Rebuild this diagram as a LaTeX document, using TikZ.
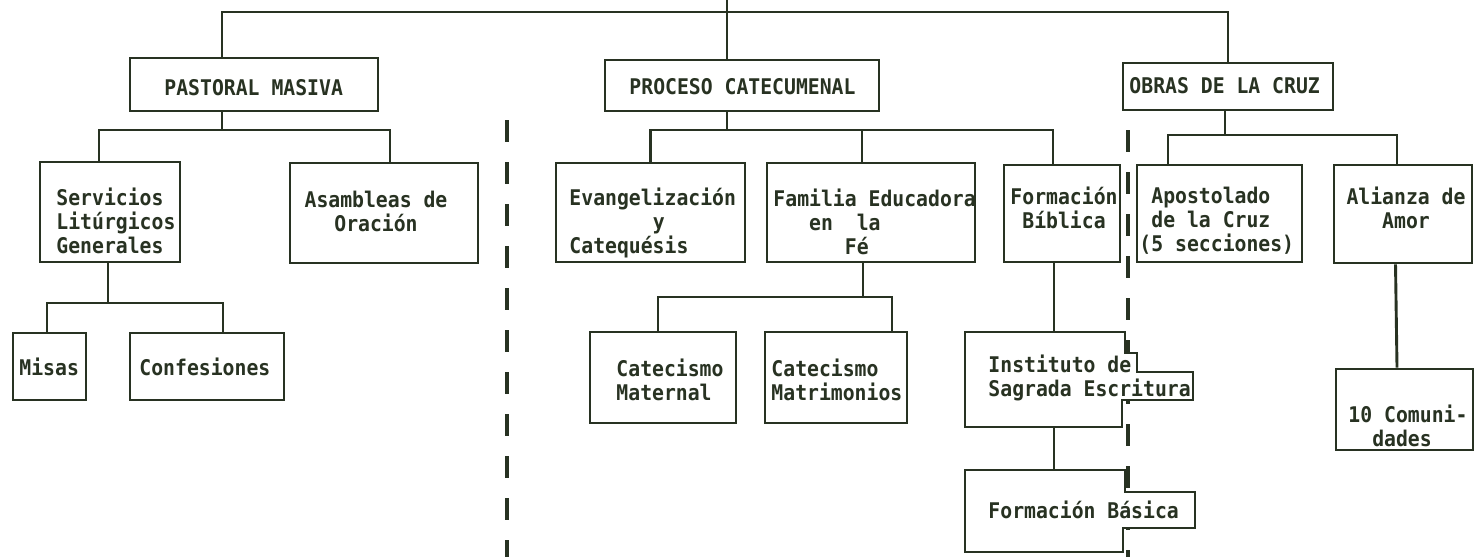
\documentclass[tikz,border=0pt]{standalone}
\usepackage{fontspec}
\setmainfont{DejaVu Sans Mono}[FakeStretch=0.915]
\usetikzlibrary{calc,fit}
\definecolor{ink}{RGB}{40,50,34}
\begin{document}
\begin{tikzpicture}[x=0.5pt,y=-0.5pt, color=ink, line width=1.45pt,
  box/.style={draw=ink, fill=white, line width=1.45pt, inner sep=0pt},
  ghost/.style={inner sep=0pt},
  txt/.style={text=ink, inner sep=0pt, font=\bfseries\fontsize{10.8}{12}\selectfont},
  dashline/.style={line width=1.6pt, draw=ink, dash pattern=on 11pt off 10pt}]
\useasboundingbox (0,0) rectangle (1481,557);

% ---- dashed separators (drawn first, boxes cover them) ----
\coordinate (d1a) at (507,120);
\coordinate (d1b) at (507,557);
\coordinate (d2a) at (1128,130);
\coordinate (d2b) at (1128,557);
\draw[dashline] (d1a) -- (d1b);
\draw[dashline] (d2a) -- (d2b);

% ---- boxes ----
\node[box, fit={(130,58) (378,111)}] (pm) {};
\node[box, fit={(605,60) (879,111)}] (pc) {};
\node[box, fit={(1123,63) (1333,110)}] (oc) {};
\node[box, fit={(40,162) (180,262)}] (serv) {};
\node[box, fit={(290,163) (478,263)}] (asam) {};
\node[box, fit={(556,163) (745,262)}] (evang) {};
\node[box, fit={(767,163) (975,262)}] (fam) {};
\node[box, fit={(1004,165) (1120,262)}] (fb) {};
\node[box, fit={(1137,165) (1302,262)}] (apost) {};
\node[box, fit={(1334,165) (1472,263)}] (ali) {};
\node[box, fit={(13,333) (86,400)}] (misas) {};
\node[box, fit={(130,333) (284,400)}] (conf) {};
\node[box, fit={(590,332) (736,423)}] (catm) {};
\node[box, fit={(765,332) (907,423)}] (catmat) {};
\node[box, fit={(1336,369) (1473,450)}] (com) {};
\node[ghost, fit={(965,332) (1125,427)}] (inst) {};
\node[ghost, fit={(965,470) (1125,552)}] (fbas) {};
\draw[fill=white] (965,332) -- (1125,332) -- (1125,353) -- (1137,353) -- (1137,372) -- (1193,372)
  -- (1193,400) -- (1122,400) -- (1122,427) -- (965,427) -- cycle;
\draw[fill=white] (965,470) -- (1125,470) -- (1125,492) -- (1195,492) -- (1195,528) -- (1123,528)
  -- (1123,552) -- (965,552) -- cycle;

% ---- texts ----
\node[txt, anchor=west] (pmT) at (163,88) {PASTORAL MASIVA};
\node[txt, anchor=west] (pcT) at (628,87) {PROCESO CATECUMENAL};
\node[txt, anchor=west] (ocT) at (1128,86) {OBRAS DE LA CRUZ};
\node[txt, anchor=west, align=left] (servT) at (55,221) {Servicios\\Litúrgicos\\Generales};
\node[txt, align=center] (asamT) at (376,211) {Asambleas de\\Oración};
\node[txt, anchor=west, align=left] (evangT) at (568,223) {Evangelización\\\phantom{xxxxxxx}y\\Catequésis};
\node[txt, anchor=west, align=left] (famT) at (772,222) {Familia Educadora\\\phantom{xxx}en\phantom{xx}la\\\phantom{xxxxxx}Fé};
\node[txt, align=center] (fbT) at (1064,208) {Formación\\Bíblica};
\node[txt, anchor=west, align=left] (apostT) at (1138,221) {\phantom{x}Apostolado\\\phantom{x}de la Cruz\\(5 secciones)};
\node[txt, align=center] (aliT) at (1406,208) {Alianza de\\Amor};
\node[txt, anchor=west] (misasT) at (18,367) {Misas};
\node[txt, anchor=west] (confT) at (138,367) {Confesiones};
\node[txt, anchor=west, align=left] (catmT) at (615,380) {Catecismo\\Maternal};
\node[txt, anchor=west, align=left] (catmatT) at (770,380) {Catecismo\\Matrimonios};
\node[txt, anchor=west, align=left] (instT) at (987,378) {Instituto de\\Sagrada Escritura};
\node[txt, anchor=west] (fbasT) at (987,510) {Formación Básica};
\node[txt, anchor=west, align=left] (comT) at (1347,426) {10 Comuni-\\\phantom{xx}dades};

% ---- connectors ----
\coordinate (topend) at (727,0);
\coordinate (barc) at (727,12);
\draw (topend) -- (pc.north -| topend);
\draw ($(pm.north)+(-32,0)$) |- (barc) -| (oc.north);

\coordinate (pmb) at (222,130);
\draw ($(pm.south)+(-32,0)$) -- (pmb);
\draw ($(serv.north)+(-11,0)$) |- (pmb) -| ($(asam.north)+(6,0)$);

\coordinate (svb) at (108,303);
\draw ($(serv.south)+(-2,0)$) -- (svb);
\draw ($(misas.north)+(-2.5,0)$) |- (svb) -| ($(conf.north)+(16,0)$);

\coordinate (pcb) at (727,130);
\draw ($(pc.south)+(-15,0)$) -- (pcb);
\draw (evang.north) |- (pcb) -| ($(fb.north)+(-9,0)$);
\draw ($(fam.north)+(-9,0)$) -- ++(0,-33);

\coordinate (fmb) at (863,297);
\draw ($(fam.south)+(-8,0)$) -- (fmb);
\draw ($(catm.north)+(-5,0)$) |- (fmb) -| ($(catmat.north)+(56,0)$);

\draw ($(fb.south)+(-8,0)$) -- ($(inst.north)+(9,0)$);
\draw ($(inst.south)+(9,0)$) -- ($(fbas.north)+(9,0)$);

\coordinate (ocb) at (1225,135);
\draw ($(oc.south)+(-3,0)$) -- (ocb);
\draw ($(apost.north)+(-51.5,0)$) |- (ocb) -| ($(ali.north)+(-6,0)$);
\draw ($(ali.south)+(-7.5,0)$) -- ($(com.north)+(-7.5,0)$);
\end{tikzpicture}
\end{document}
